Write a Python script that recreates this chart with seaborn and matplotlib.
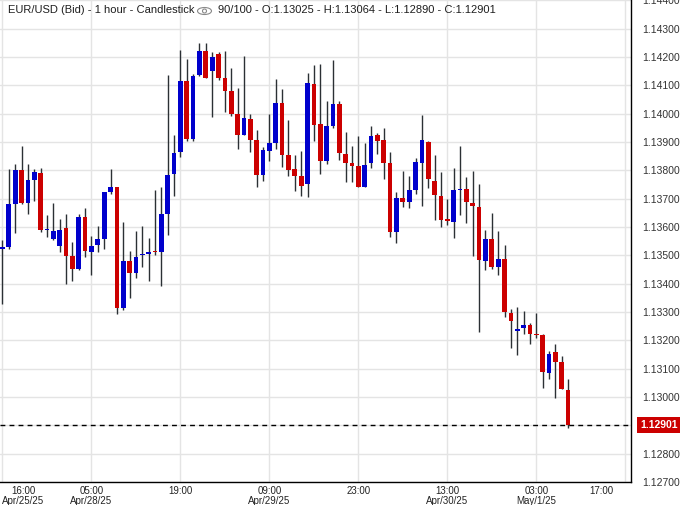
import numpy as np
import matplotlib
matplotlib.use("Agg")
import matplotlib.pyplot as plt
import matplotlib.transforms as mtransforms
from matplotlib.patches import Ellipse
import seaborn as sns

# ─────────────────────────────────────────────
# DATA  (EUR/USD bid, 1 hour bars)
# ─────────────────────────────────────────────
opens = [1.13521, 1.13530, 1.13680, 1.13802, 1.13685, 1.13765, 1.13792, 1.13589, 1.13559, 1.13534,
         1.13596, 1.13499, 1.13451, 1.13635, 1.13510, 1.13535, 1.13559, 1.13723, 1.13740, 1.13315,
         1.13481, 1.13437, 1.13500, 1.13503, 1.13516, 1.13510, 1.13645, 1.13786, 1.13863, 1.14116,
         1.13910, 1.14138, 1.14220, 1.14149, 1.14210, 1.14127, 1.14079, 1.13997, 1.13925, 1.13980,
         1.13906, 1.13785, 1.13869, 1.13896, 1.14036, 1.13855, 1.13805, 1.13780, 1.13750, 1.14106,
         1.13962, 1.13832, 1.13958, 1.14035, 1.13857, 1.13825, 1.13815, 1.13741, 1.13825, 1.13923,
         1.13906, 1.13825, 1.13584, 1.13703, 1.13687, 1.13732, 1.13827, 1.13899, 1.13763, 1.13710,
         1.13627, 1.13617, 1.13729, 1.13735, 1.13686, 1.13669, 1.13480, 1.13557, 1.13459, 1.13486,
         1.13298, 1.13234, 1.13243, 1.13253, 1.13222, 1.13219, 1.13084, 1.13159, 1.13124, 1.13025]
highs = [1.13553, 1.13806, 1.13823, 1.13886, 1.13823, 1.13806, 1.13809, 1.13642, 1.13684, 1.13628,
         1.13645, 1.13548, 1.13645, 1.13666, 1.13569, 1.13603, 1.13722, 1.13806, 1.13740, 1.13617,
         1.13516, 1.13586, 1.13603, 1.13562, 1.13730, 1.13740, 1.14136, 1.13926, 1.14226, 1.14194,
         1.14141, 1.14249, 1.14249, 1.14217, 1.14217, 1.14220, 1.14162, 1.14092, 1.14202, 1.14000,
         1.13941, 1.13882, 1.13997, 1.14123, 1.14086, 1.13977, 1.13855, 1.13868, 1.14144, 1.14172,
         1.14175, 1.14046, 1.14191, 1.14045, 1.13934, 1.13885, 1.13920, 1.13897, 1.13958, 1.13932,
         1.13951, 1.13864, 1.13724, 1.13797, 1.13780, 1.13843, 1.13995, 1.13903, 1.13853, 1.13794,
         1.13700, 1.13808, 1.13885, 1.13777, 1.13798, 1.13752, 1.13591, 1.13649, 1.13585, 1.13536,
         1.13312, 1.13316, 1.13302, 1.13260, 1.13295, 1.13222, 1.13164, 1.13187, 1.13145, 1.13064]
lows = [1.13329, 1.13524, 1.13577, 1.13681, 1.13646, 1.13692, 1.13584, 1.13563, 1.13555, 1.13513,
        1.13399, 1.13409, 1.13448, 1.13493, 1.13430, 1.13510, 1.13524, 1.13716, 1.13294, 1.13308,
        1.13350, 1.13420, 1.13458, 1.13409, 1.13500, 1.13392, 1.13573, 1.13709, 1.13848, 1.13904,
        1.13904, 1.14132, 1.14124, 1.13989, 1.14117, 1.14004, 1.13992, 1.13876, 1.13925, 1.13864,
        1.13742, 1.13763, 1.13834, 1.13876, 1.13812, 1.13779, 1.13728, 1.13710, 1.13707, 1.13902,
        1.13788, 1.13823, 1.13951, 1.13837, 1.13759, 1.13759, 1.13741, 1.13741, 1.13808, 1.13857,
        1.13771, 1.13566, 1.13545, 1.13669, 1.13666, 1.13715, 1.13675, 1.13736, 1.13626, 1.13600,
        1.13608, 1.13562, 1.13642, 1.13614, 1.13499, 1.13229, 1.13449, 1.13453, 1.13431, 1.13283,
        1.13174, 1.13149, 1.13222, 1.13187, 1.13207, 1.13031, 1.13063, 1.12996, 1.13027, 1.12890]
closes = [1.13530, 1.13680, 1.13802, 1.13685, 1.13767, 1.13795, 1.13591, 1.13593, 1.13586, 1.13589,
          1.13499, 1.13451, 1.13635, 1.13514, 1.13534, 1.13558, 1.13722, 1.13740, 1.13315, 1.13481,
          1.13437, 1.13495, 1.13503, 1.13513, 1.13510, 1.13645, 1.13785, 1.13862, 1.14116, 1.13910,
          1.14134, 1.14220, 1.14124, 1.14200, 1.14127, 1.14079, 1.13997, 1.13925, 1.13983, 1.13907,
          1.13785, 1.13871, 1.13896, 1.14036, 1.13855, 1.13802, 1.13781, 1.13746, 1.14109, 1.13960,
          1.13832, 1.13958, 1.14035, 1.13860, 1.13825, 1.13815, 1.13741, 1.13818, 1.13920, 1.13902,
          1.13825, 1.13584, 1.13703, 1.13687, 1.13731, 1.13829, 1.13906, 1.13771, 1.13712, 1.13624,
          1.13621, 1.13731, 1.13731, 1.13687, 1.13673, 1.13485, 1.13557, 1.13459, 1.13486, 1.13300,
          1.13269, 1.13240, 1.13253, 1.13223, 1.13220, 1.13087, 1.13151, 1.13122, 1.13028, 1.12901]

tick_bars = [0, 14, 28, 42, 56, 70, 84, 98]
tick_labels = ["16:00\nApr/25/25", "05:00\nApr/28/25", "19:00", "09:00\nApr/29/25",
               "23:00", "13:00\nApr/30/25", "03:00\nMay/1/25", "17:00"]
price_ticks = [1.127, 1.128, 1.129, 1.130, 1.131, 1.132, 1.133, 1.134, 1.135,
               1.136, 1.137, 1.138, 1.139, 1.140, 1.141, 1.142, 1.143, 1.144]
last_price = 1.12901
title_left = "EUR/USD (Bid) - 1 hour - Candlestick"
title_right = "90/100 - O:1.13025 - H:1.13064 - L:1.12890 - C:1.12901"

UP = "#0000cc"
DOWN = "#cc0000"
WICK = "#2b3034"

sns.set_theme(style="whitegrid", rc={
    "grid.color": "#e4e4e4",
    "grid.linewidth": 1.0,
    "axes.edgecolor": "black",
    "axes.linewidth": 1.0,
})
plt.rcParams["font.family"] = ["Liberation Sans", "DejaVu Sans"]

o = np.array(opens)
h = np.array(highs)
l = np.array(lows)
c = np.array(closes)
x = np.arange(len(o))

fig = plt.figure(figsize=(6.88, 5.05), dpi=100)
ax = fig.add_axes([0.0, 23 / 505, 631 / 688, 1 - 23 / 505])

# wicks, then bodies on top
ax.vlines(x, l, h, color=WICK, linewidth=1.0, zorder=2)
body_h = np.maximum(np.abs(c - o), 0.00004)
body_b = np.minimum(o, c)
colors = [UP if cc >= oo else DOWN for oo, cc in zip(o, c)]
ax.bar(x, body_h, bottom=body_b, width=0.74, color=colors, linewidth=0, zorder=3)

# current price line
ax.axhline(last_price, color="black", linewidth=1.0, linestyle=(0, (3.5, 3)), zorder=4)

ax.set_xlim(-0.39, 98.9)
ax.set_ylim(1.12717, 1.14401)

ax.set_xticks(tick_bars)
ax.set_xticklabels(tick_labels, fontsize=7, color="#222222", linespacing=0.95)
ax.set_yticks(price_ticks)
ax.set_yticklabels(["" if abs(p - 1.129) < 1e-9 else f"{p:.5f}" for p in price_ticks],
                   fontsize=7.5, color="#333333")
ax.yaxis.tick_right()
ax.tick_params(axis="y", length=0, pad=8)
ax.tick_params(axis="x", length=0, pad=3)
ax.grid(True, zorder=0)
ax.set_axisbelow(True)

for side in ["top", "left"]:
    ax.spines[side].set_visible(False)

# first label sits inside the plot, last one is pulled left
xl = ax.get_xticklabels()
xl[0].set_horizontalalignment("left")
xl[0].set_multialignment("center")
xl[-1].set_transform(xl[-1].get_transform() +
                     mtransforms.ScaledTranslation(-0.24, 0, fig.dpi_scale_trans))

# last price marker on the axis
ax.annotate(f"{last_price:.5f}", xy=(1.0, last_price), xycoords=("axes fraction", "data"),
            xytext=(6.5, 0), textcoords="offset points", ha="left", va="center",
            fontsize=7.5, color="white", fontweight="bold",
            bbox=dict(boxstyle="square,pad=0.25", facecolor=DOWN, edgecolor="none"),
            annotation_clip=False, zorder=10)

# header
fig.text(8 / 688, 1 - 10 / 505, title_left, fontsize=8, color="#1e1e1e", va="center")
fig.patches.append(Ellipse((204.5 / 688, 1 - 11 / 505), 14 / 688, 7 / 505,
                           transform=fig.transFigure, facecolor="none",
                           edgecolor="#8a8a8a", linewidth=0.8))
fig.patches.append(Ellipse((204.5 / 688, 1 - 11 / 505), 4 / 688, 4 / 505,
                           transform=fig.transFigure, facecolor="none",
                           edgecolor="#8a8a8a", linewidth=0.8))
fig.text(218 / 688, 1 - 10 / 505, title_right, fontsize=8, color="#1e1e1e", va="center")

fig.savefig("out.png", dpi=100)
